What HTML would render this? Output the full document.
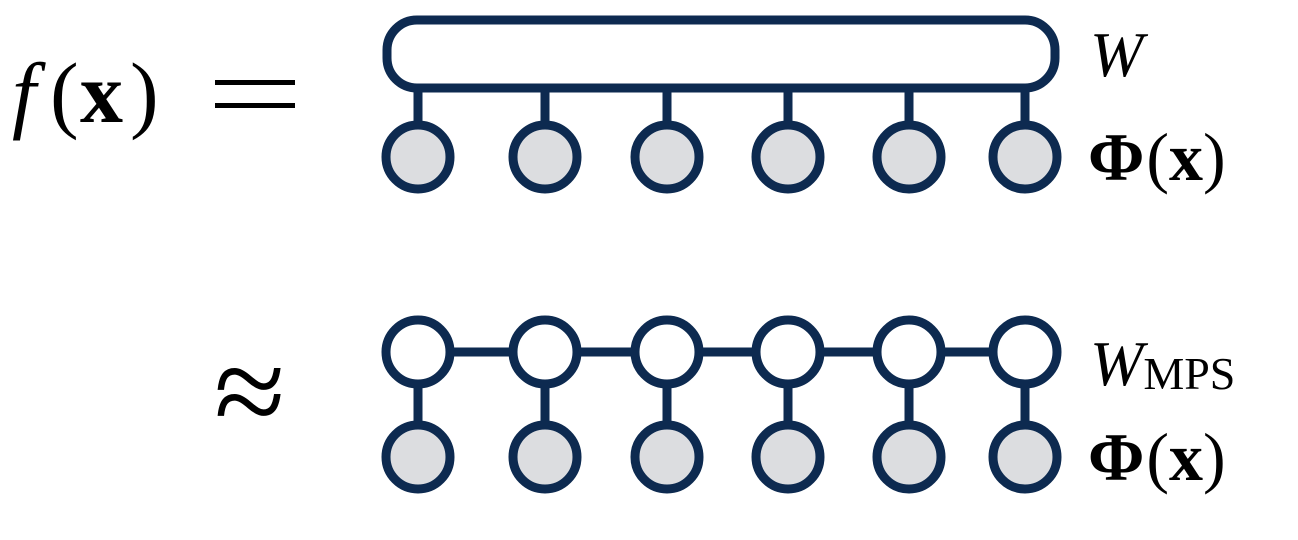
<!DOCTYPE html>
<html><head><meta charset="utf-8"><style>
html,body{margin:0;padding:0;background:#fff;}
svg{display:block}
text{font-family:"Liberation Serif",serif;fill:#000;}
</style></head><body>
<svg width="1298" height="540" viewBox="0 0 1298 540">
<g>
<text x="12" y="122" font-size="86" font-style="italic">f</text>
<text x="50" y="122" font-size="86">(</text>
<text x="80" y="122" font-size="86" font-weight="bold">x</text>
<text x="130" y="122" font-size="86">)</text>
</g>
<g>
<rect x="215" y="80" width="80" height="5" fill="#000"/>
<rect x="215" y="103" width="80" height="5" fill="#000"/>
</g>
<text x="214" y="435" font-size="130">≈</text>
<g stroke="#0d2a50" stroke-width="9">
<rect x="387" y="20" width="668" height="68" rx="30" fill="#fff"/>
<g>
<line x1="418" y1="88" x2="418" y2="125"/><line x1="545" y1="88" x2="545" y2="125"/><line x1="667" y1="88" x2="667" y2="125"/><line x1="788" y1="88" x2="788" y2="125"/><line x1="909" y1="88" x2="909" y2="125"/><line x1="1025" y1="88" x2="1025" y2="125"/>
</g>
<g fill="#dcdde0">
<circle cx="418" cy="157" r="32"/><circle cx="545" cy="157" r="32"/><circle cx="667" cy="157" r="32"/><circle cx="788" cy="157" r="32"/><circle cx="909" cy="157" r="32"/><circle cx="1025" cy="157" r="32"/>
</g>
</g>
<g stroke="#0d2a50" stroke-width="9">
<line x1="418" y1="352" x2="1025" y2="352"/>
<g>
<line x1="418" y1="352" x2="418" y2="425"/><line x1="545" y1="352" x2="545" y2="425"/><line x1="667" y1="352" x2="667" y2="425"/><line x1="788" y1="352" x2="788" y2="425"/><line x1="909" y1="352" x2="909" y2="425"/><line x1="1025" y1="352" x2="1025" y2="425"/>
</g>
<g fill="#fff">
<circle cx="418" cy="352" r="32"/><circle cx="545" cy="352" r="32"/><circle cx="667" cy="352" r="32"/><circle cx="788" cy="352" r="32"/><circle cx="909" cy="352" r="32"/><circle cx="1025" cy="352" r="32"/>
</g>
<g fill="#dcdde0">
<circle cx="418" cy="457" r="32"/><circle cx="545" cy="457" r="32"/><circle cx="667" cy="457" r="32"/><circle cx="788" cy="457" r="32"/><circle cx="909" cy="457" r="32"/><circle cx="1025" cy="457" r="32"/>
</g>
</g>
<text x="1090" y="76" font-size="64" font-style="italic">W</text>
<text x="1088" y="180" font-size="68"><tspan font-weight="bold">Φ</tspan><tspan dx="2">(</tspan><tspan font-weight="bold">x</tspan>)</text>
<text x="1090" y="385" font-size="64"><tspan font-style="italic">W</tspan><tspan font-size="46" dy="4">MPS</tspan></text>
<text x="1088" y="480" font-size="68"><tspan font-weight="bold">Φ</tspan><tspan dx="2">(</tspan><tspan font-weight="bold">x</tspan>)</text>
</svg>
</body></html>
